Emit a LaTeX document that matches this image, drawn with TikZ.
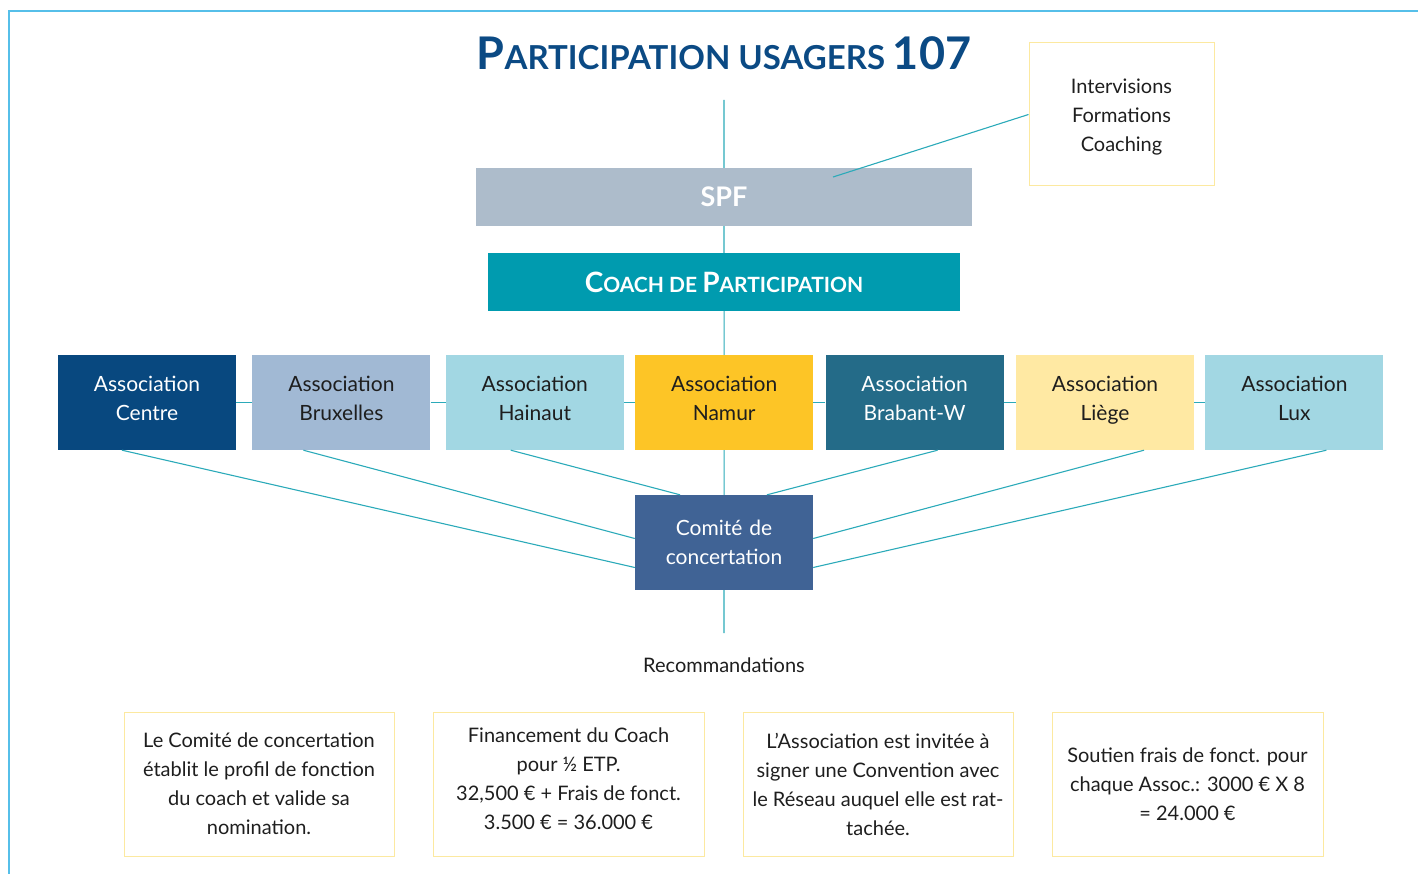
\documentclass[tikz,border=0pt]{standalone}
\usepackage{fontspec}
\setmainfont{Lato}
\usetikzlibrary{positioning,calc}

\definecolor{frameblue}{HTML}{56BFE9}
\definecolor{linkteal}{HTML}{2BAAB9}
\definecolor{titleblue}{HTML}{0B4A84}
\definecolor{spfgray}{HTML}{ADBCCB}
\definecolor{coachteal}{HTML}{009BAF}
\definecolor{centreblue}{HTML}{08487F}
\definecolor{bxlblue}{HTML}{A1B9D4}
\definecolor{paleblue}{HTML}{A2D7E3}
\definecolor{namuryellow}{HTML}{FDC526}
\definecolor{brabantblue}{HTML}{246B88}
\definecolor{liegeyellow}{HTML}{FFE9A3}
\definecolor{comiteblue}{HTML}{406395}
\definecolor{noteedge}{HTML}{FCE9A0}
\definecolor{inkgray}{HTML}{1E1E1E}

\begin{document}
\begin{tikzpicture}[
  x=1pt, y=-1pt,
  bar/.style={rectangle, minimum height=58pt, inner sep=0pt, text=white, font=\bfseries},
  assoc/.style={rectangle, minimum width=178pt, minimum height=95pt, inner sep=0pt, text width=170pt, align=center, text=inkgray, font=\fontsize{21}{29}\selectfont},
  note/.style={rectangle, draw=noteedge, line width=1pt, inner sep=0pt, align=center, text=inkgray, font=\fontsize{20}{29}\selectfont},
  link/.style={draw=linkteal, line width=1.1pt}
]
  \useasboundingbox (0,0) rectangle (1418,874);
  % frame on top and left
  \draw[frameblue, line width=1.5pt] (9,874) -- (9,11) -- (1418,11);

  \node[text=titleblue, font=\bfseries] (title) at (724,53)
    {\fontsize{45}{45}\selectfont P\fontsize{33}{33}\selectfont ARTICIPATION USAGERS \fontsize{45}{45}\selectfont 107};

  \coordinate (top) at (724,100);
  \node[bar, fill=spfgray, minimum width=496pt, font=\bfseries\fontsize{27}{27}\selectfont] (spf) at (724,197) {SPF};
  \node[bar, fill=coachteal, minimum width=472pt] (coach) at (724,282)
    {\fontsize{28}{28}\selectfont C\fontsize{21}{21}\selectfont OACH DE \fontsize{28}{28}\selectfont P\fontsize{21}{21}\selectfont ARTICIPATION};

  \node[note, minimum width=185pt, minimum height=143pt] (interv) at (1121.5,114.5)
    {\strut Intervisions\\Formations\\Coaching};

  % the seven associations
  \node[assoc, fill=centreblue, text=white] (centre) at (147,402.5) {Association\\Centre\strut};
  \node[assoc, fill=bxlblue, right=16pt of centre] (bxl) {Association\\Bruxelles\strut};
  \node[assoc, fill=paleblue, right=15pt of bxl] (hainaut) {Association\\Hainaut\strut};
  \node[assoc, fill=namuryellow, right=11pt of hainaut] (namur) {Association\\Namur\strut};
  \node[assoc, fill=brabantblue, text=white, right=12pt of namur] (brabant) {Association\\Brabant-W\strut};
  \node[assoc, fill=liegeyellow, right=12pt of brabant] (liege) {Association\\Liège\strut};
  \node[assoc, fill=paleblue, right=11pt of liege] (lux) {Association\\Lux\strut};

  \node[assoc, fill=comiteblue, text=white] (comite) at (724,542.5) {Comité de\\concertation};

  \coordinate (recotop) at (724,633);
  \node[text=inkgray, font=\fontsize{20}{20}\selectfont] (reco) at (724,665) {Recommandations};

  % recommendations
  \node[note, minimum width=270pt, minimum height=144pt] (rec1) at (259,784)
    {Le Comité de concertation\\établit le profil de fonction\\du coach et valide sa\\nomination.};
  \node[note, minimum width=271pt, minimum height=144pt] (rec2) at (568.5,784)
    {Financement du Coach\\pour ½ ETP.\\32,500 € + Frais de fonct.\\3.500 € = 36.000 €\\[-18pt]};
  \node[note, minimum width=270pt, minimum height=144pt] (rec3) at (878,784)
    {L’Association est invitée à\\signer une Convention avec\\le Réseau auquel elle est rat-\\tachée.};
  \node[note, minimum width=271pt, minimum height=144pt] (rec4) at (1187.5,784)
    {Soutien frais de fonct. pour\\chaque Assoc.: 3000 € X 8\\= 24.000 €};

  % links
  \draw[link] (top) -- (spf) -- (coach) -- (namur) -- (comite) -- (recotop);
  \draw[link] (centre) -- (bxl) -- (hainaut) -- (namur) -- (brabant) -- (liege) -- (lux);
  \draw[link] ($(spf.center)+(109,-20)$) -- (interv.west);
  \draw[link] ($(centre.south)+(-25,0)$) -- ($(comite.west)+(0,25)$);
  \draw[link] ($(bxl.south)+(-38,0)$) -- ($(comite.west)+(0,-4)$);
  \draw[link] ($(hainaut.south)+(-24,0)$) -- ($(comite.north)+(-44,0)$);
  \draw[link] ($(brabant.south)+(23,0)$) -- ($(comite.north)+(43,0)$);
  \draw[link] ($(liege.south)+(39,0)$) -- ($(comite.east)+(0,-4)$);
  \draw[link] ($(lux.south)+(32,0)$) -- ($(comite.east)+(0,25)$);
\end{tikzpicture}
\end{document}
